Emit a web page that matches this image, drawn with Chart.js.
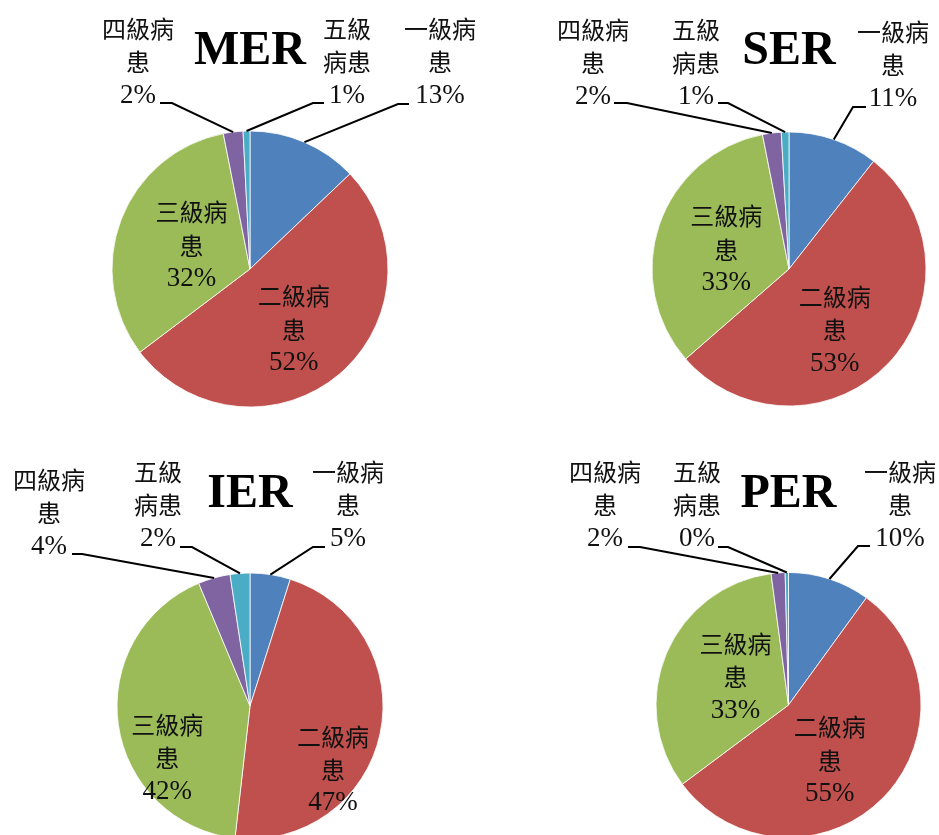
<!DOCTYPE html>
<html>
<head>
<meta charset="utf-8">
<script src="https://cdn.jsdelivr.net/npm/chart.js@4.4.1/dist/chart.umd.min.js"></script>
<style>
  html, body { margin: 0; padding: 0; background: #fff; overflow: hidden; }
  #board { position: relative; width: 939px; height: 835px; overflow: hidden; }
  #board canvas { position: absolute; left: 0; top: 0; }
</style>
</head>
<body>
<div id="board">
  <canvas id="mer" width="939" height="835"></canvas>
  <canvas id="ser" width="939" height="835"></canvas>
  <canvas id="ier" width="939" height="835"></canvas>
  <canvas id="per" width="939" height="835"></canvas>
</div>
<script>
// Patient severity levels
const categories = ['一級病患', '二級病患', '三級病患', '四級病患', '五級病患'];

// Share of patients (%) per level, for each group
const merValues = [12.9, 51.8, 32.2, 2.3, 0.8];
const serValues = [10.6, 53.0, 33.3, 2.2, 0.9];
const ierValues = [4.9, 46.9, 41.9, 3.9, 2.4];
const perValues = [10.0, 54.8, 33.1, 1.7, 0.4];

const groupTitles = ['MER', 'SER', 'IER', 'PER'];

// Styling
const sliceColors = ['#4F81BD', '#C0504D', '#9BBB59', '#8064A2', '#4BACC6'];
const nameWrap = [3, 3, 3, 3, 2];       // characters on the first label line
const LINE_H = 33.5;
const NAME_FONT = '24px "Noto Sans CJK TC", "Liberation Serif", serif';
const PCT_FONT = '27px "Liberation Serif", "Times New Roman", serif';
const TITLE_FONT = 'bold 48px "Liberation Serif", "Times New Roman", serif';
const PAGE_W = 939, PAGE_H = 835;

// Placement of each pie and its labels (offsets from the pie centre)
const panels = [
  { id: 'mer', values: merValues, title: groupTitles[0], cx: 250, cy: 269, r: 138, titleDy: -205,
    places: [
      { out: [190, -207], elbow: [148, -165], end: [159, -165] },
      { inside: [-1, 8] },
      { inside: [6, 1] },
      { out: [-112, -207], elbow: [-78, -166], end: [-90, -166] },
      { out: [97, -207], elbow: [63, -166], end: [74, -166] }
    ] },
  { id: 'ser', values: serValues, title: groupTitles[1], cx: 789, cy: 269, r: 137, titleDy: -205,
    places: [
      { out: [104, -204], elbow: [64, -162], end: [77, -162] },
      { inside: [-4, 14] },
      { inside: [2, 3] },
      { out: [-196, -206], elbow: [-162, -166], end: [-175, -166] },
      { out: [-93, -206], elbow: [-61, -166], end: [-71, -166] }
    ] },
  { id: 'ier', values: ierValues, title: groupTitles[2], cx: 250, cy: 706, r: 133, titleDy: -199,
    places: [
      { out: [98, -201], elbow: [63, -159], end: [75, -159] },
      { inside: [18, 50] },
      { inside: [-17, 43] },
      { out: [-201, -193], elbow: [-168, -152], end: [-178, -152] },
      { out: [-92, -201], elbow: [-58, -159], end: [-70, -159] }
    ] },
  { id: 'per', values: perValues, title: groupTitles[3], cx: 788.5, cy: 705, r: 132.5, titleDy: -198,
    places: [
      { out: [111.5, -200], elbow: [69.5, -159], end: [81.5, -159] },
      { inside: [-6, 9] },
      { inside: [8, -2] },
      { out: [-183.5, -200], elbow: [-148.5, -158], end: [-160.5, -158] },
      { out: [-91.5, -200], elbow: [-60.5, -158], end: [-70.5, -158] }
    ] }
];

// Draws the group title, the slice labels and the leader lines
const sliceLabels = {
  id: 'sliceLabels',
  afterDatasetsDraw(chart, args, opts) {
    const ctx = chart.ctx;
    const meta = chart.getDatasetMeta(0);
    const data = chart.data.datasets[0].data;
    const total = data.reduce((a, b) => a + b, 0);
    const first = meta.data[0];
    const cx = first.x, cy = first.y;

    ctx.save();
    ctx.fillStyle = '#000';
    ctx.textAlign = 'center';
    ctx.textBaseline = 'alphabetic';
    ctx.font = TITLE_FONT;
    ctx.fillText(opts.title, cx, cy + opts.titleDy);

    meta.data.forEach((arc, i) => {
      const place = opts.places[i];
      const name = chart.data.labels[i];
      const k = nameWrap[i];
      const lines = [name.slice(0, k), name.slice(k), Math.round(data[i] / total * 100) + '%'];
      let bx, by;
      if (place.inside) {
        const p = arc.getCenterPoint();
        bx = p.x + place.inside[0];
        by = p.y + place.inside[1];
      } else {
        bx = cx + place.out[0];
        by = cy + place.out[1];
        const mid = (arc.startAngle + arc.endAngle) / 2;
        ctx.beginPath();
        ctx.moveTo(cx + Math.cos(mid) * arc.outerRadius, cy + Math.sin(mid) * arc.outerRadius);
        ctx.lineTo(cx + place.elbow[0], cy + place.elbow[1]);
        ctx.lineTo(cx + place.end[0], cy + place.end[1]);
        ctx.lineWidth = 2;
        ctx.strokeStyle = '#000';
        ctx.stroke();
      }
      ctx.textBaseline = 'middle';
      ctx.fillStyle = '#111';
      lines.forEach((txt, j) => {
        ctx.font = j === lines.length - 1 ? PCT_FONT : NAME_FONT;
        ctx.fillText(txt, bx, by + (j - 1) * LINE_H);
      });
    });
    ctx.restore();
  }
};

panels.forEach(p => {
  const halfW = Math.min(p.cx, PAGE_W - p.cx);
  const halfH = Math.min(p.cy, PAGE_H - p.cy);
  new Chart(document.getElementById(p.id), {
    type: 'pie',
    data: {
      labels: categories,
      datasets: [{
        data: p.values,
        backgroundColor: sliceColors,
        borderColor: '#ffffff',
        borderWidth: 0.8
      }]
    },
    options: {
      responsive: false,
      animation: false,
      events: [],
      radius: p.r,
      layout: {
        padding: {
          left: p.cx - halfW,
          right: PAGE_W - (p.cx + halfW),
          top: p.cy - halfH,
          bottom: PAGE_H - (p.cy + halfH)
        }
      },
      plugins: {
        legend: { display: false },
        tooltip: { enabled: false },
        title: { display: false },
        sliceLabels: { title: p.title, titleDy: p.titleDy, places: p.places }
      }
    },
    plugins: [sliceLabels]
  });
});
</script>
</body>
</html>
